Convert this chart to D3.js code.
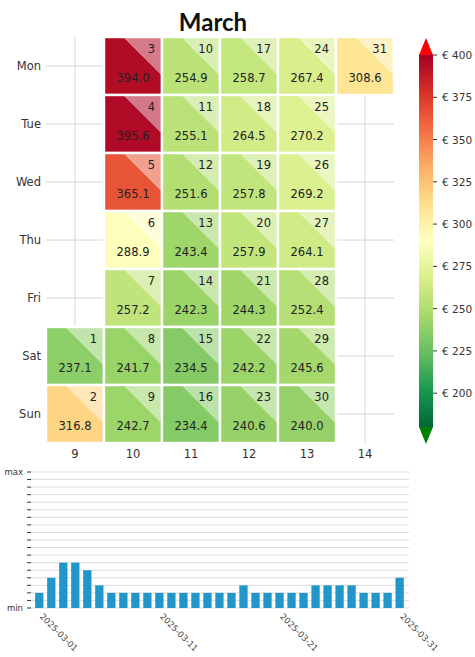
<!DOCTYPE html>
<html lang="en">
<head>
<meta charset="UTF-8">
<title>March</title>
<script src="https://cdnjs.cloudflare.com/ajax/libs/d3/7.8.5/d3.min.js"></script>
<style>
    body { margin: 0; background: #fff; }
    text { font-family: "DejaVu Sans", sans-serif; }
</style>
</head>
<body>
<script>
    // heatmap data: day of month, iso week, weekday index (0 = Mon), value
    var days     = d3.range(1, 32);
    var weeks    = [9, 10, 11, 12, 13, 14];
    var weekdays = ["Mon", "Tue", "Wed", "Thu", "Fri", "Sat", "Sun"];
    var values   = [237.1, 316.8, 394.0, 395.6, 365.1, 288.9, 257.2, 241.7, 242.7,
                    254.9, 255.1, 251.6, 243.4, 242.3, 234.5, 234.4,
                    258.7, 264.5, 257.8, 257.9, 244.3, 242.2, 240.6,
                    267.4, 270.2, 269.2, 264.1, 252.4, 245.6, 240.0,
                    308.6];
    // bar chart levels (0 = min, 18 = max)
    var levels   = [2, 4, 6, 6, 5, 3, 2, 2, 2, 2, 2, 2, 2, 2, 2, 2, 2, 3, 2, 2,
                    2, 2, 2, 3, 3, 3, 3, 2, 2, 2, 4];
    var levelMax = 18;
    var dateTicks = [1, 11, 21, 31];
    var cbTicks   = [200, 225, 250, 275, 300, 325, 350, 375, 400];
    var vmin = 180, vmax = 400;

    var width = 475, height = 657;
    var svg = d3.select("body").append("svg")
        .attr("width", width)
        .attr("height", height);

    // 2025-03-01 is a Saturday in ISO week 9
    var cells = days.map(function(d, i) {
        var idx = d + 4;                 // offset so that day 1 -> Sat (5)
        return {
            day: d,
            value: values[i],
            week: 9 + Math.floor(idx / 7),
            wd: idx % 7
        };
    });

    var color = d3.scaleLinear()
        .domain(d3.range(11).map(function(i) { return vmin + i * (vmax - vmin) / 10; }))
        .range(d3.schemeRdYlGn[11].slice().reverse())
        .clamp(true);

    svg.append("text")
        .attr("x", 213)
        .attr("y", 31)
        .attr("text-anchor", "middle")
        .style("font-family", "Lato, sans-serif")
        .style("font-weight", "bold")
        .style("font-size", "24px")
        .attr("fill", "#111")
        .text("March");

    // heatmap
    var x = d3.scaleBand().domain(weeks).range([46, 394]);
    var y = d3.scaleBand().domain(weekdays).range([37, 443]);

    var grid = svg.append("g").attr("stroke", "#d6d6d6").attr("stroke-width", 1);
    grid.selectAll(".v").data(weeks).enter().append("line")
        .attr("x1", function(d) { return x(d) + x.bandwidth() / 2; })
        .attr("x2", function(d) { return x(d) + x.bandwidth() / 2; })
        .attr("y1", 37).attr("y2", 443);
    grid.selectAll(".h").data(weekdays).enter().append("line")
        .attr("y1", function(d) { return y(d) + y.bandwidth() / 2; })
        .attr("y2", function(d) { return y(d) + y.bandwidth() / 2; })
        .attr("x1", 46).attr("x2", 394);

    var cell = svg.selectAll(".cell")
        .data(cells)
        .enter()
        .append("g")
        .attr("class", "cell")
        .attr("transform", function(d) {
            return "translate(" + x(d.week) + "," + y(weekdays[d.wd]) + ")";
        });

    var cw = x.bandwidth(), ch = y.bandwidth();

    cell.append("rect")
        .attr("width", cw)
        .attr("height", ch)
        .attr("fill", function(d) { return color(d.value); })
        .attr("stroke", "#fff")
        .attr("stroke-width", 2.4);

    cell.append("path")
        .attr("d", "M" + (cw * 0.36) + ",1.2L" + (cw - 1.2) + ",1.2L" + (cw - 1.2) + "," + (ch * 0.64) + "Z")
        .attr("fill", function(d) { return d3.interpolateRgb(color(d.value), "#fff")(0.45); })
        .attr("stroke", "#fff")
        .attr("stroke-opacity", 0.5)
        .attr("stroke-width", 0.8);

    cell.append("text")
        .attr("x", cw - 7)
        .attr("y", 16)
        .attr("text-anchor", "end")
        .style("font-size", "11.5px")
        .attr("fill", "#222")
        .text(function(d) { return d.day; });

    cell.append("text")
        .attr("x", cw / 2)
        .attr("y", 45)
        .attr("text-anchor", "middle")
        .style("font-size", "11.5px")
        .attr("fill", "#222")
        .text(function(d) { return d.value.toFixed(1); });

    svg.append("g").selectAll("text").data(weekdays).enter().append("text")
        .attr("x", 41)
        .attr("y", function(d) { return y(d) + y.bandwidth() / 2 + 4; })
        .attr("text-anchor", "end")
        .style("font-size", "11.5px")
        .attr("fill", "#333")
        .text(function(d) { return d; });

    svg.append("g").selectAll("text").data(weeks).enter().append("text")
        .attr("x", function(d) { return x(d) + x.bandwidth() / 2; })
        .attr("y", 458)
        .attr("text-anchor", "middle")
        .style("font-size", "11.5px")
        .attr("fill", "#333")
        .text(function(d) { return d; });

    // colorbar
    var cb = d3.scaleLinear().domain([vmin, vmax]).range([427, 55]);
    var defs = svg.append("defs");
    var grad = defs.append("linearGradient")
        .attr("id", "cbgrad")
        .attr("x1", 0).attr("y1", 1).attr("x2", 0).attr("y2", 0);
    d3.range(0, 1.0001, 0.05).forEach(function(t) {
        grad.append("stop")
            .attr("offset", t)
            .attr("stop-color", color(vmin + t * (vmax - vmin)));
    });
    var cbx0 = 419, cbx1 = 433;
    svg.append("rect")
        .attr("x", cbx0).attr("y", cb(vmax))
        .attr("width", cbx1 - cbx0).attr("height", cb(vmin) - cb(vmax))
        .attr("fill", "url(#cbgrad)");
    svg.append("path")
        .attr("d", "M" + cbx0 + "," + cb(vmax) + "L" + (cbx0 + cbx1) / 2 + ",38L" + cbx1 + "," + cb(vmax) + "Z")
        .attr("fill", "#ff0000");
    svg.append("path")
        .attr("d", "M" + cbx0 + "," + cb(vmin) + "L" + (cbx0 + cbx1) / 2 + ",444L" + cbx1 + "," + cb(vmin) + "Z")
        .attr("fill", "#008000");

    var cbt = svg.append("g").selectAll("g").data(cbTicks).enter().append("g")
        .attr("transform", function(d) { return "translate(0," + cb(d) + ")"; });
    cbt.append("line")
        .attr("x1", cbx1).attr("x2", cbx1 + 4)
        .attr("stroke", "#333");
    cbt.append("text")
        .attr("x", 442)
        .attr("y", 4)
        .style("font-size", "10.5px")
        .attr("fill", "#333")
        .text(function(d) { return "€ " + d; });

    // bar chart
    var bx = d3.scaleBand().domain(days).range([31.4, 407.5]).padding(0.31);
    var by = d3.scaleLinear().domain([0, levelMax]).range([608, 472]);

    var bgrid = svg.append("g");
    bgrid.selectAll("line.g").data(d3.range(0, levelMax + 1)).enter().append("line")
        .attr("x1", 31).attr("x2", 409)
        .attr("y1", function(d) { return by(d); })
        .attr("y2", function(d) { return by(d); })
        .attr("stroke", "#dcdcdc");
    bgrid.selectAll("line.t").data(d3.range(0, levelMax + 1)).enter().append("line")
        .attr("x1", 27).attr("x2", 31)
        .attr("y1", function(d) { return by(d); })
        .attr("y2", function(d) { return by(d); })
        .attr("stroke", "#333");

    svg.append("text").attr("x", 23).attr("y", by(levelMax) + 3)
        .attr("text-anchor", "end").style("font-size", "8.5px").attr("fill", "#333").text("max");
    svg.append("text").attr("x", 23).attr("y", by(0) + 3)
        .attr("text-anchor", "end").style("font-size", "8.5px").attr("fill", "#333").text("min");

    svg.append("g").selectAll("rect").data(days).enter().append("rect")
        .attr("x", function(d) { return bx(d); })
        .attr("width", bx.bandwidth())
        .attr("y", function(d, i) { return by(levels[i]); })
        .attr("height", function(d, i) { return by(0) - by(levels[i]); })
        .attr("fill", "#2196c9");

    svg.append("g").selectAll("text").data(dateTicks).enter().append("text")
        .attr("transform", function(d) {
            return "translate(" + (bx(d) + bx.bandwidth() / 2) + ",617) rotate(45)";
        })
        .style("font-size", "8.5px")
        .attr("fill", "#444")
        .text(function(d) { return "2025-03-" + d3.format("02")(d); });
</script>
</body>
</html>
